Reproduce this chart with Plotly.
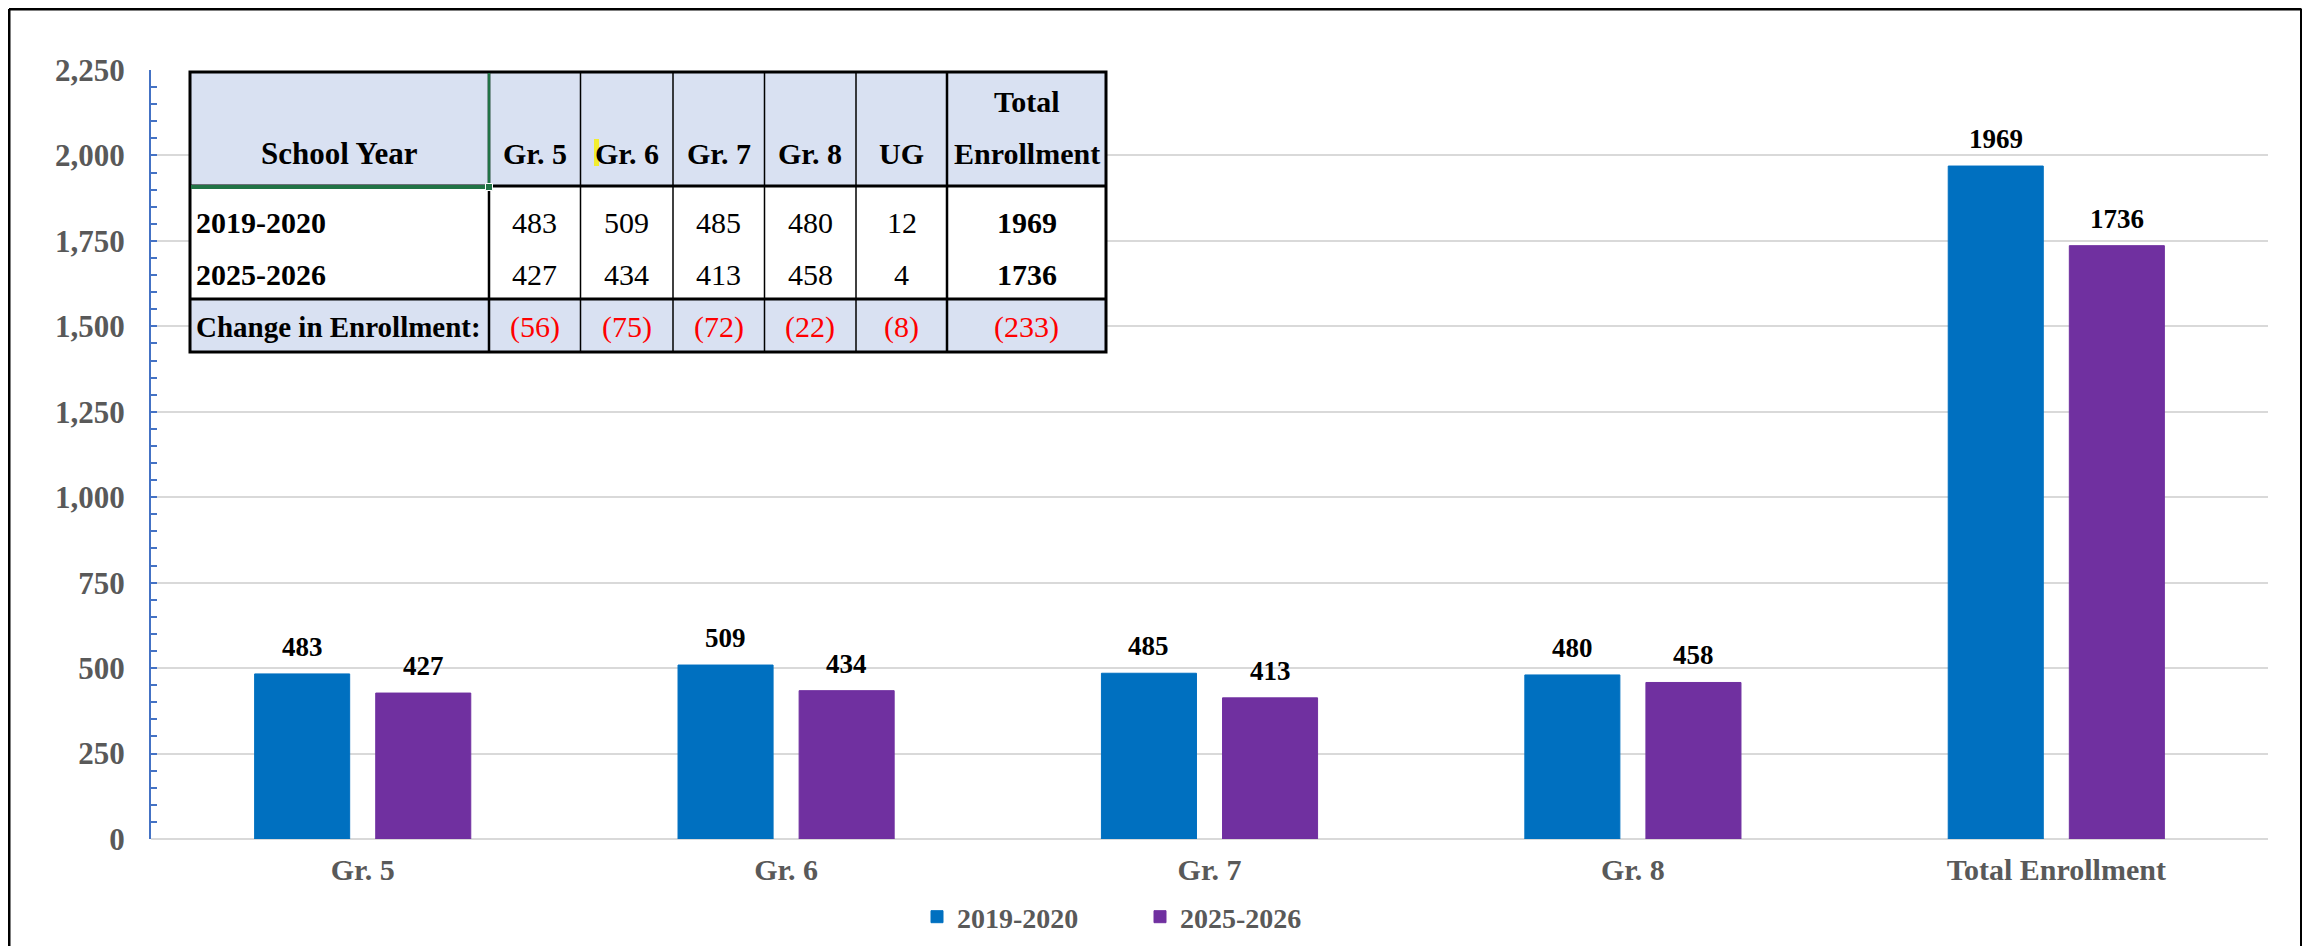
import plotly.graph_objects as go

# ---------------- data ----------------
categories = ["Gr. 5", "Gr. 6", "Gr. 7", "Gr. 8", "Total Enrollment"]
series_names = ["2019-2020", "2025-2026"]
enroll_2019 = [483, 509, 485, 480, 1969]
enroll_2025 = [427, 434, 413, 458, 1736]

table_header = ["Gr. 5", "Gr. 6", "Gr. 7", "Gr. 8", "UG", "Total Enrollment"]
table_2019 = [483, 509, 485, 480, 12, 1969]
table_2025 = [427, 434, 413, 458, 4, 1736]

y_ticks = [0, 250, 500, 750, 1000, 1250, 1500, 1750, 2000, 2250]

# ---------------- style ----------------
PAGE_OFF = 8                     # default body margin of the html page
W, H = 2310 - PAGE_OFF, 946 - PAGE_OFF
ML, MR, MT, MB = 151 - PAGE_OFF, 42, 70 - PAGE_OFF, 107
BLUE = "#0070C0"
PURPLE = "#7030A0"
GRAY = "#595959"
GRID = "#D9D9D9"
AXBLUE = "#4472C4"
HDR = "#D9E1F2"
GREEN = "#217346"
FONT = "Liberation Serif"
BARGAP = 0.428
GROUPGAP = 0.215

PW = W - ML - MR
PH = H - MT - MB


# positions below are given in screen pixels of the reference
def px(x):
    return (x - PAGE_OFF - ML) / PW


def py(y):
    return (H - MB - (y - PAGE_OFF)) / PH


fig = go.Figure()
colors = [BLUE, PURPLE]
for name, vals, col in zip(series_names, [enroll_2019, enroll_2025], colors):
    fig.add_trace(go.Bar(
        x=categories, y=vals, name=name,
        marker=dict(color=col, line=dict(color=col, width=1)),
        hoverinfo="x+y+name",
    ))

shapes = []
annotations = []

# data labels above bars
off = (1 - BARGAP) / 4
for k, vals in enumerate([enroll_2019, enroll_2025]):
    sgn = -1 if k == 0 else 1
    for i, v in enumerate(vals):
        annotations.append(dict(
            x=i + sgn * off, y=v, xref="x", yref="y", text=f"<b>{v}</b>",
            showarrow=False, yanchor="bottom", yshift=10,
            font=dict(family=FONT, size=27, color="black"),
        ))

# ---------------- table overlay ----------------
col_edges = [190, 489, 580.5, 673, 764.5, 856, 947, 1106]
row_edges = [72, 186, 299, 352]


def rect(x0, y0, x1, y1, fill=None, lc=None, lw=0, layer="above"):
    d = dict(type="rect", xref="paper", yref="paper",
             x0=px(x0), x1=px(x1), y0=py(y1), y1=py(y0), layer=layer,
             line=dict(width=lw, color=lc or "rgba(0,0,0,0)"))
    d["fillcolor"] = fill if fill else "rgba(0,0,0,0)"
    return d


def line(x0, y0, x1, y1, color="black", width=1.5):
    return dict(type="line", xref="paper", yref="paper",
                x0=px(x0), x1=px(x1), y0=py(y0), y1=py(y1),
                line=dict(color=color, width=width), layer="above")


# backgrounds
shapes.append(rect(col_edges[0], row_edges[0], col_edges[-1], row_edges[1], fill=HDR))
shapes.append(rect(col_edges[0], row_edges[1], col_edges[-1], row_edges[2], fill="white"))
shapes.append(rect(col_edges[0], row_edges[2], col_edges[-1], row_edges[3], fill=HDR))
# small yellow highlight left of the "G" in "Gr. 6"
shapes.append(rect(594, 139, 599, 166, fill="#F2EE30"))

# vertical lines
for j, xe in enumerate(col_edges[1:-1], start=1):
    w = 2.5 if j in (1, 6) else 1.5
    shapes.append(line(xe, row_edges[0], xe, row_edges[3], width=w))
# horizontal lines
shapes.append(line(col_edges[0], row_edges[1], col_edges[-1], row_edges[1], width=3))
shapes.append(line(col_edges[0], row_edges[2], col_edges[-1], row_edges[2], width=3))
# outer border
shapes.append(rect(col_edges[0], row_edges[0], col_edges[-1], row_edges[3], lc="black", lw=3))
# excel selection marker
shapes.append(line(col_edges[0] + 1, row_edges[1] + 1, col_edges[1], row_edges[1] + 1, color=GREEN, width=4))
shapes.append(line(col_edges[1], row_edges[0] + 1, col_edges[1], row_edges[1], color=GREEN, width=2.5))
shapes.append(rect(col_edges[1] - 3.5, row_edges[1] - 2.5, col_edges[1] + 3.5, row_edges[1] + 4.5,
                   fill=GREEN, lc="white", lw=1))


def txt(x, y, s, size=30, color="black", xanchor="center", bold=True):
    annotations.append(dict(
        x=px(x), y=py(y), xref="paper", yref="paper",
        text=f"<b>{s}</b>" if bold else s, showarrow=False,
        xanchor=xanchor, yanchor="middle",
        font=dict(family=FONT, size=size, color=color),
    ))


hdr_y = 153
txt((col_edges[0] + col_edges[1]) / 2, hdr_y, "School Year", size=31)
for j, h in enumerate(table_header):
    cx = (col_edges[j + 1] + col_edges[j + 2]) / 2
    if j == len(table_header) - 1:
        top, bottom = h.split(" ")
        txt(cx, 102, top)
        txt(cx, hdr_y, bottom)
    else:
        txt(cx, hdr_y, h)

row_y = [223, 274]
for r, (lab, vals) in enumerate(zip(series_names, [table_2019, table_2025])):
    txt(col_edges[0] + 4, row_y[r], lab, xanchor="left")
    for j, v in enumerate(vals):
        cx = (col_edges[j + 1] + col_edges[j + 2]) / 2
        txt(cx, row_y[r], str(v), bold=(j == len(vals) - 1))

chg_y = 327
txt(col_edges[0] + 4, chg_y, "Change in Enrollment:", size=29, xanchor="left")
for j, (a, b) in enumerate(zip(table_2019, table_2025)):
    cx = (col_edges[j + 1] + col_edges[j + 2]) / 2
    d = b - a
    s = f"({abs(d)})" if d < 0 else str(d)
    txt(cx, chg_y, s, color="#FF0000", bold=False)

# outer image frame (left, top, right; bottom lies outside the picture)
shapes.append(line(9, 9, 9, 960, width=3))
shapes.append(line(9, 9, 2301.5, 9, width=3))
shapes.append(line(2301.5, 9, 2301.5, 960, width=3))

fig.update_layout(
    width=W, height=H,
    margin=dict(l=ML, r=MR, t=MT, b=MB, pad=0, autoexpand=False),
    paper_bgcolor="white", plot_bgcolor="white",
    barmode="group", bargap=BARGAP, bargroupgap=GROUPGAP,
    font=dict(family=FONT, color=GRAY),
    showlegend=True,
    legend=dict(
        orientation="h", x=px(917), xanchor="left", y=py(917), yanchor="middle",
        font=dict(family=FONT, size=28, color=GRAY, weight="bold"),
        entrywidth=178, entrywidthmode="pixels",
        bgcolor="rgba(0,0,0,0)", itemclick=False,
    ),
    shapes=shapes,
    annotations=annotations,
)

fig.update_xaxes(
    type="category", showgrid=False, showline=False, ticks="",
    tickfont=dict(family=FONT, size=30, color=GRAY, weight="bold"),
    ticklabelstandoff=10,
)
fig.update_yaxes(
    range=[0, 2250], tickvals=y_ticks, tickformat=",",
    showgrid=True, gridcolor=GRID, gridwidth=1.5,
    zeroline=True, zerolinecolor=GRID, zerolinewidth=2,
    showline=True, linecolor=AXBLUE, linewidth=2,
    ticks="inside", ticklen=6, tickcolor=AXBLUE, tickwidth=1.5,
    minor=dict(ticks="inside", dtick=50, ticklen=6, tickcolor=AXBLUE, tickwidth=1.5, showgrid=False),
    tickfont=dict(family=FONT, size=31, color=GRAY, weight="bold"),
    ticklabelstandoff=18,
)

fig.write_html("out.html")
